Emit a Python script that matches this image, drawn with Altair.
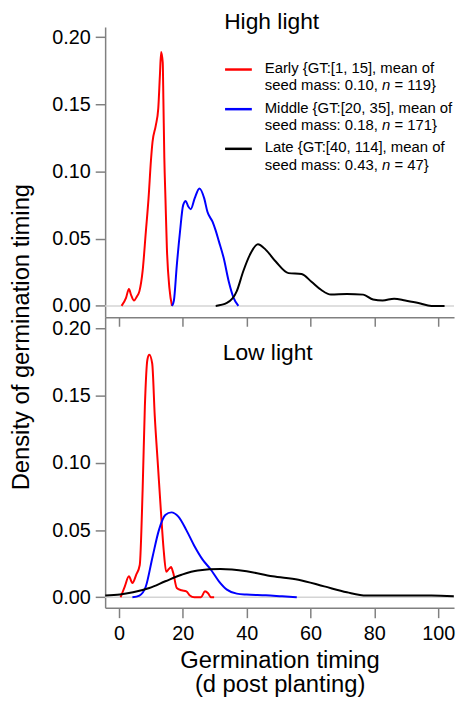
import altair as alt
import pandas as pd

# ---------------- data ----------------
groups = ["Early", "Middle", "Late"]
colors = ["#ff0000", "#0000ff", "#000000"]
legend_line1 = ["Early {GT:[1, 15], mean of",
                "Middle {GT:[20, 35], mean of",
                "Late {GT:[40, 114], mean of"]
legend_mass = ["0.10", "0.18", "0.43"]
legend_n = ["119", "171", "47"]
panel_titles = ["High light", "Low light"]
y_title = "Density of germination timing"
x_title = ["Germination timing", "(d post planting)"]
x_ticks = [0, 20, 40, 60, 80, 100]
y_ticks = [0.0, 0.05, 0.10, 0.15, 0.20]

high_early_x = [0.8, 2.2, 3.1, 3.8, 4.7, 5.6, 6.4, 7.4, 8.4, 9.25, 10.0, 10.5, 11.5, 12.3,
                12.8, 13.2, 13.7, 13.9, 14.2, 14.55, 15.0, 15.8, 16.6]
high_early_y = [0.0, 0.006, 0.0126, 0.008, 0.004, 0.007, 0.011, 0.026, 0.055, 0.080, 0.108,
                0.122, 0.134, 0.147, 0.171, 0.189, 0.181, 0.154, 0.110, 0.080, 0.043, 0.013, 0.0]
high_middle_x = [16.6, 17.2, 18.1, 19.1, 20.1, 20.9, 21.7, 22.5, 23.7, 25.2, 26.7, 27.7, 29.3,
                 30.3, 31.3, 32.8, 34.4, 35.9, 37.4]
high_middle_y = [0.0, 0.004, 0.030, 0.055, 0.075, 0.078, 0.074, 0.072, 0.080, 0.0874, 0.080,
                 0.070, 0.0627, 0.056, 0.048, 0.0356, 0.018, 0.006, 0.0]
high_late_x = [30.3, 33.8, 36.9, 38.9, 41.0, 43.5, 46.0, 49.1, 53.1, 57.2, 60.3, 63.3, 66.4,
               71.4, 76.5, 79.6, 82.6, 86.2, 89.7, 93.8, 97.9, 102.0]
high_late_y = [0.0, 0.0022, 0.011, 0.0256, 0.038, 0.0459, 0.0417, 0.033, 0.0244, 0.0237, 0.018,
               0.012, 0.0084, 0.0089, 0.0084, 0.0047, 0.004, 0.0054, 0.004, 0.0022, 0.0, 0.0]

low_early_x = [0.5, 1.8, 3.1, 4.2, 5.4, 6.5, 7.4, 8.1, 8.9, 9.5, 10.4, 11.2, 12.2, 13.1, 14.0,
               14.8, 15.6, 16.3, 17.0, 18.1, 19.6, 21.1, 22.2, 23.6, 25.7, 26.9, 27.9, 28.8, 29.8]
low_early_y = [0.0, 0.008, 0.0156, 0.0106, 0.0168, 0.024, 0.080, 0.142, 0.177, 0.1805, 0.174,
               0.135, 0.098, 0.065, 0.035, 0.019, 0.021, 0.0225, 0.018, 0.0069, 0.0052, 0.0044,
               0.0013, 0.0, 0.0, 0.0044, 0.003, 0.0, 0.0]
low_middle_x = [4.2, 6.4, 8.4, 10.5, 12.5, 14.5, 16.4, 18.6, 21.1, 23.7, 26.2, 28.8, 31.3, 33.8,
                36.9, 40.0, 46.0, 51.1, 55.7]
low_middle_y = [0.0, 0.0013, 0.008, 0.030, 0.050, 0.0612, 0.0632, 0.060, 0.050, 0.0378, 0.028,
                0.0205, 0.0119, 0.0057, 0.0027, 0.002, 0.0015, 0.0007, 0.0]
low_late_x = [-4.3, 0.3, 4.4, 9.5, 14.5, 19.6, 24.7, 31.8, 40.0, 48.1, 56.2, 64.3, 71.4, 77.5,
              88.0, 97.9, 104.9]
low_late_y = [0.0013, 0.002, 0.0037, 0.0069, 0.0119, 0.0168, 0.020, 0.021, 0.0193, 0.0156,
              0.0131, 0.0081, 0.0037, 0.0013, 0.0013, 0.0013, 0.0007]


def series_frame(parts):
    rows = []
    for g, xs, ys in parts:
        for i, (a, b) in enumerate(zip(xs, ys)):
            rows.append({"group": g, "t": a, "d": b, "i": i})
    return pd.DataFrame(rows)


high_df = series_frame([("Early", high_early_x, high_early_y),
                        ("Middle", high_middle_x, high_middle_y),
                        ("Late", high_late_x, high_late_y)])
low_df = series_frame([("Early", low_early_x, low_early_y),
                       ("Middle", low_middle_x, low_middle_y),
                       ("Late", low_late_x, low_late_y)])

# ---------------- layout / style ----------------
W, H = 352, 293
X_DOMAIN = [-4.348, 104.97]
Y_DOMAIN_TOP = [-0.0085, 0.2076]
Y_DOMAIN_BOTTOM = [-0.0078, 0.2084]
AXIS_COLOR = "#808080"
FONT = "Liberation Sans"

xscale = alt.Scale(domain=X_DOMAIN, nice=False, zero=False)
color_scale = alt.Scale(domain=groups, range=colors)


def y_axis():
    return alt.Axis(values=y_ticks, format=".2f", tickSize=10, tickWidth=1.5,
                    domainWidth=1.5, domainColor=AXIS_COLOR, tickColor=AXIS_COLOR,
                    labelFontSize=20, labelColor="black", labelPadding=5,
                    grid=False, title=None)


def base_layers(df, ydom, top_axis, bottom_axis):
    yscale = alt.Scale(domain=ydom, nice=False, zero=False)
    base_df = pd.DataFrame({"x0": [X_DOMAIN[0]], "x1": [X_DOMAIN[1]], "y0": [0.0]})
    rule = alt.Chart(base_df).mark_rule(color="#d4d4d4", strokeWidth=1.5).encode(
        x=alt.X("x0:Q", scale=xscale, axis=top_axis),
        x2="x1:Q",
        y=alt.Y("y0:Q", scale=yscale, axis=y_axis()),
    )
    lines = alt.Chart(df).mark_line(strokeWidth=2, interpolate="monotone").encode(
        x=alt.X("t:Q", scale=xscale, axis=bottom_axis),
        y=alt.Y("d:Q", scale=yscale, axis=y_axis()),
        color=alt.Color("group:N", scale=color_scale, legend=None),
        detail="group:N",
        order="i:Q",
    )
    return rule, lines


def text_layer(txt, x, y, size, **kw):
    return alt.Chart(pd.DataFrame({"txt": [txt]})).mark_text(
        fontSize=size, font=FONT, color="black", **kw
    ).encode(x=alt.value(x), y=alt.value(y), text="txt:N")


# ----- top panel -----
rule_t, lines_t = base_layers(high_df, Y_DOMAIN_TOP, None, None)
top_layers = [rule_t, lines_t,
              text_layer(panel_titles[0], 168, 2, 23, align="center", baseline="alphabetic"),
              text_layer(y_title, -77, 313, 24, align="center", baseline="alphabetic", angle=270)]

LEG_SYM_X0, LEG_SYM_X1 = 121, 148
LEG_TEXT_X = 161
LEG_Y0, LEG_STEP, LEG_LINE = 43, 40, 17.5
LEG_FS = 15
prefix_w = 7.893 * LEG_FS
n_w = 0.556 * LEG_FS
space_w = 0.278 * LEG_FS
for k, g in enumerate(groups):
    yc = LEG_Y0 + k * LEG_STEP
    sym = alt.Chart(pd.DataFrame({"group": [g]})).mark_rule(strokeWidth=2.5).encode(
        x=alt.value(LEG_SYM_X0), x2=alt.value(LEG_SYM_X1), y=alt.value(yc),
        color=alt.Color("group:N", scale=color_scale, legend=None),
    )
    top_layers.append(sym)
    top_layers.append(text_layer(legend_line1[k], LEG_TEXT_X, yc + 3.5, LEG_FS,
                                 align="left", baseline="alphabetic"))
    top_layers.append(text_layer("seed mass: " + legend_mass[k] + ",", LEG_TEXT_X,
                                 yc + 3.5 + LEG_LINE, LEG_FS, align="left", baseline="alphabetic"))
    top_layers.append(text_layer("n", LEG_TEXT_X + prefix_w, yc + 3.5 + LEG_LINE, LEG_FS,
                                 align="left", baseline="alphabetic", fontStyle="italic"))
    top_layers.append(text_layer("= " + legend_n[k] + "}", LEG_TEXT_X + prefix_w + n_w + space_w,
                                 yc + 3.5 + LEG_LINE, LEG_FS, align="left", baseline="alphabetic"))

top = alt.layer(*top_layers).properties(width=W, height=H)

# ----- bottom panel -----
top_x_axis = alt.Axis(orient="top", values=x_ticks, labels=False, title=None,
                      tickSize={"expr": "-9"}, tickWidth=1.5, domainWidth=1.5,
                      domainColor=AXIS_COLOR, tickColor=AXIS_COLOR, grid=False)
bottom_x_axis = alt.Axis(orient="bottom", values=x_ticks, format="d", tickSize=10,
                         tickWidth=1.5, domainWidth=1.5, domainColor=AXIS_COLOR,
                         tickColor=AXIS_COLOR, labelFontSize=20, labelColor="black",
                         labelPadding=6, labelFlush=False, grid=False,
                         title=x_title, titleFontSize=24, titleFontWeight="normal",
                         titleColor="black", titlePadding=5, titleLineHeight=25)
rule_b, lines_b = base_layers(low_df, Y_DOMAIN_BOTTOM, top_x_axis, bottom_x_axis)
bottom = alt.layer(
    rule_b, lines_b,
    text_layer(panel_titles[1], 164, 43, 23, align="center", baseline="alphabetic"),
).resolve_axis(x="independent").properties(width=W, height=H)

chart = alt.vconcat(top, bottom, spacing=0, bounds="flush").properties(
    padding={"left": 2, "top": 0, "right": 0, "bottom": 0}
).configure(font=FONT).configure_view(stroke=None).configure_axis(
    labelFont=FONT, titleFont=FONT
)

chart.save("out.html", embed_options={"renderer": "svg", "actions": False})
